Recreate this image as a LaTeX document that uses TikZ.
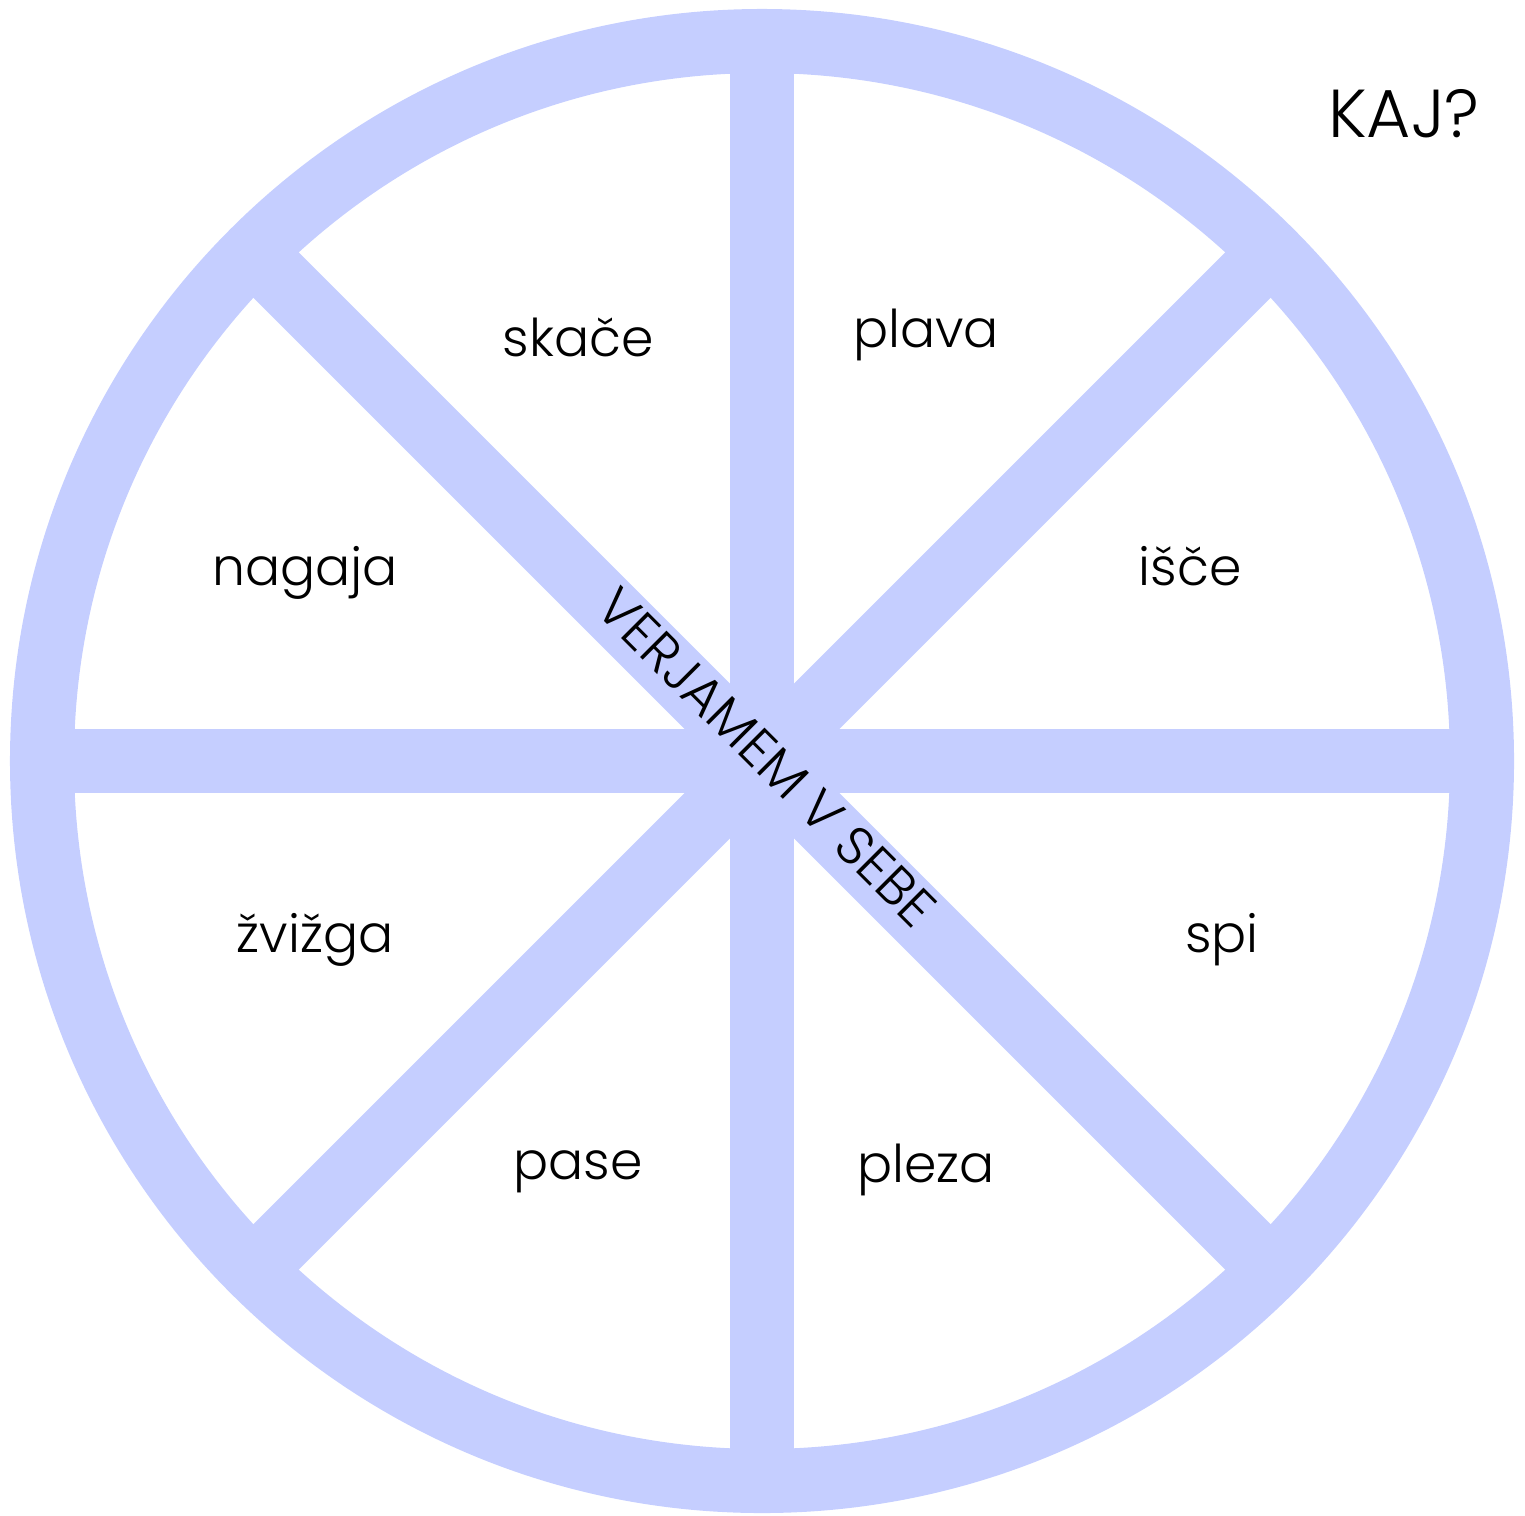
\documentclass[tikz,border=0pt]{standalone}
\usepackage{fontspec}
\setmainfont{Poppins}[UprightFont=* Light]
\definecolor{wheel}{RGB}{197,206,255}
\begin{document}
\begin{tikzpicture}[x=0.01cm,y=-0.01cm,
  band/.style={draw=wheel,line width=0.64cm},
  lbl/.style={font=\fontsize{14.8}{18}\selectfont,text=black,inner sep=0pt}]
\useasboundingbox (0,0) rectangle (1525,1515);
\coordinate (c) at (762,761);
\foreach \a in {0,45,...,315}{
  \draw[band] (c) -- ++(\a:-720);
}
\draw[band] (c) circle[radius=720];
\node[lbl] (skace) at (578,337) {skače};
\node[lbl] (plava) at (926,335) {plava};
\node[lbl] (nagaja) at (305,573) {nagaja};
\node[lbl] (isce) at (1190,566) {išče};
\node[lbl] (zvizga) at (315,940) {žvižga};
\node[lbl] (spi) at (1222,940) {spi};
\node[lbl] (pase) at (578,1172) {pase};
\node[lbl] (pleza) at (926,1170) {pleza};
\node[lbl,font=\fontsize{19.3}{23}\selectfont] (kaj) at (1404,114) {KAJ?};
\node[lbl,font=\fontsize{15.2}{18}\selectfont,rotate=-45] (vs) at (767,757) {VERJAMEM V SEBE};
\end{tikzpicture}
\end{document}
